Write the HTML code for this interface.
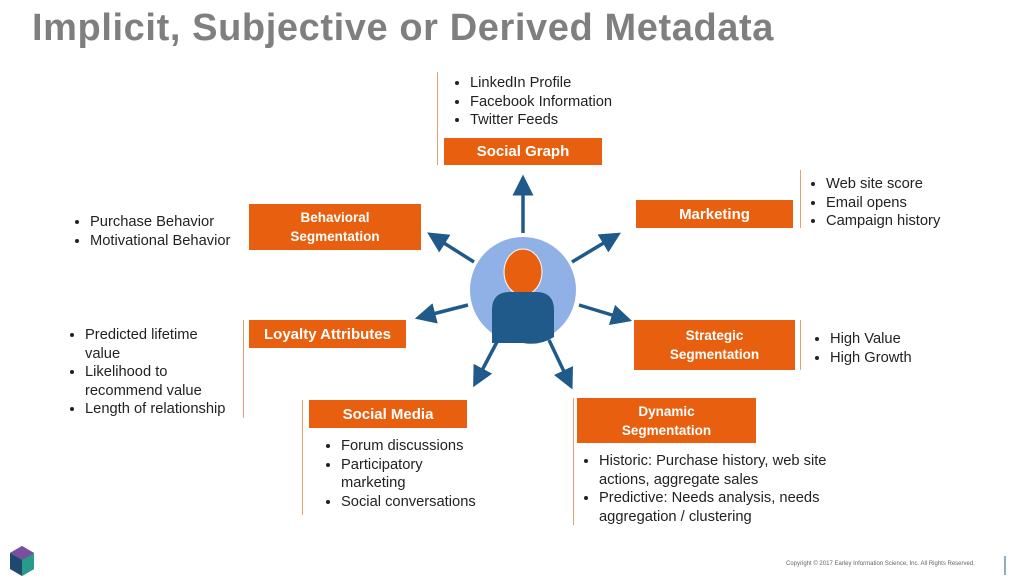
<!DOCTYPE html><html><head><style>
body{margin:0;width:1020px;height:579px;background:#fff;position:relative;overflow:hidden;font-family:"Liberation Sans",sans-serif}
.t{position:absolute;left:32px;top:7px;font-size:38px;font-weight:bold;color:#7f7f7f;letter-spacing:0.6px}
.b{position:absolute;background:#e8600f;color:#fff;font-weight:bold;display:flex;align-items:center;justify-content:center;text-align:center;line-height:19px}
.l{position:absolute;width:1px;background:#e8a070}
ul{position:absolute;margin:0;padding:0 0 0 18px;font-size:14.7px;color:#222;line-height:18.5px}
li{padding-left:0}
</style></head><body>
<div class="t">Implicit, Subjective or Derived Metadata</div>
<svg width="1020" height="579" style="position:absolute;left:0;top:0">
<defs><marker id="a" markerWidth="6" markerHeight="6" refX="3" refY="3" orient="auto" markerUnits="strokeWidth"><path d="M0,0L6,3L0,6z" fill="#205a8a"/></marker></defs>
<g stroke="#205a8a" stroke-width="3.5" marker-end="url(#a)">
<line x1="523" y1="233" x2="523" y2="185"/>
<line x1="572" y1="262" x2="612" y2="238"/>
<line x1="579" y1="305" x2="622" y2="318"/>
<line x1="549" y1="340" x2="568" y2="380"/>
<line x1="498" y1="340" x2="478" y2="378"/>
<line x1="468" y1="305" x2="425" y2="316"/>
<line x1="474" y1="262" x2="436" y2="238"/>
</g>
<circle cx="523" cy="290" r="53" fill="#8fb1e6"/>
<ellipse cx="523" cy="272" rx="19" ry="23" fill="#e8600f" stroke="#fff" stroke-width="1"/>
<path d="M492,343 L492,310 Q492,292 510,292 L536,292 Q554,292 554,310 L554,337 Q540,346 523,343 Z" fill="#205a8a"/>
<g transform="translate(10,546)"><polygon points="12,0 24,7 24,23 12,30 0,23 0,7" fill="#1e4a70"/><polygon points="12,0 24,7 12,14 0,7" fill="#7b4fa0"/><polygon points="12,14 24,7 24,23 12,30" fill="#2a9a8a"/></g>
<line x1="1005" y1="556" x2="1005" y2="575" stroke="#205a8a" stroke-width="1"/>
</svg>
<div style="position:absolute;left:786px;top:561px;font-size:6px;color:#666">Copyright © 2017 Earley Information Science, Inc. All Rights Reserved.</div>

<div class="l" style="left:437px;top:72px;height:93px"></div>
<ul style="left:452px;top:74px"><li>LinkedIn Profile</li><li>Facebook Information</li><li>Twitter Feeds</li></ul>
<div class="b" style="left:444px;top:138px;width:158px;height:27px;font-size:15px">Social Graph</div>

<div class="l" style="left:800px;top:170px;height:58px"></div>
<ul style="left:808px;top:175px"><li>Web site score</li><li>Email opens</li><li>Campaign history</li></ul>
<div class="b" style="left:636px;top:200px;width:157px;height:28px;font-size:15px">Marketing</div>

<ul style="left:72px;top:213px"><li>Purchase Behavior</li><li>Motivational Behavior</li></ul>
<div class="b" style="left:249px;top:204px;width:172px;height:46px;font-size:13.5px">Behavioral<br>Segmentation</div>

<div class="l" style="left:243px;top:320px;height:98px"></div>
<ul style="left:67px;top:326px;width:145px"><li>Predicted lifetime value</li><li>Likelihood to recommend value</li><li>Length of relationship</li></ul>
<div class="b" style="left:249px;top:320px;width:157px;height:28px;font-size:15px">Loyalty Attributes</div>

<div class="l" style="left:800px;top:320px;height:50px"></div>
<ul style="left:812px;top:330px"><li>High Value</li><li>High Growth</li></ul>
<div class="b" style="left:634px;top:320px;width:161px;height:50px;font-size:13.5px">Strategic<br>Segmentation</div>

<div class="l" style="left:302px;top:400px;height:115px"></div>
<div class="b" style="left:309px;top:400px;width:158px;height:28px;font-size:15px">Social Media</div>
<ul style="left:323px;top:437px;width:142px"><li>Forum discussions</li><li>Participatory marketing</li><li>Social conversations</li></ul>

<div class="l" style="left:573px;top:398px;height:127px"></div>
<div class="b" style="left:577px;top:398px;width:179px;height:45px;font-size:13.5px">Dynamic<br>Segmentation</div>
<ul style="left:581px;top:452px;width:262px"><li>Historic: Purchase history, web site actions, aggregate sales</li><li>Predictive: Needs analysis, needs aggregation / clustering</li></ul>
</body></html>
